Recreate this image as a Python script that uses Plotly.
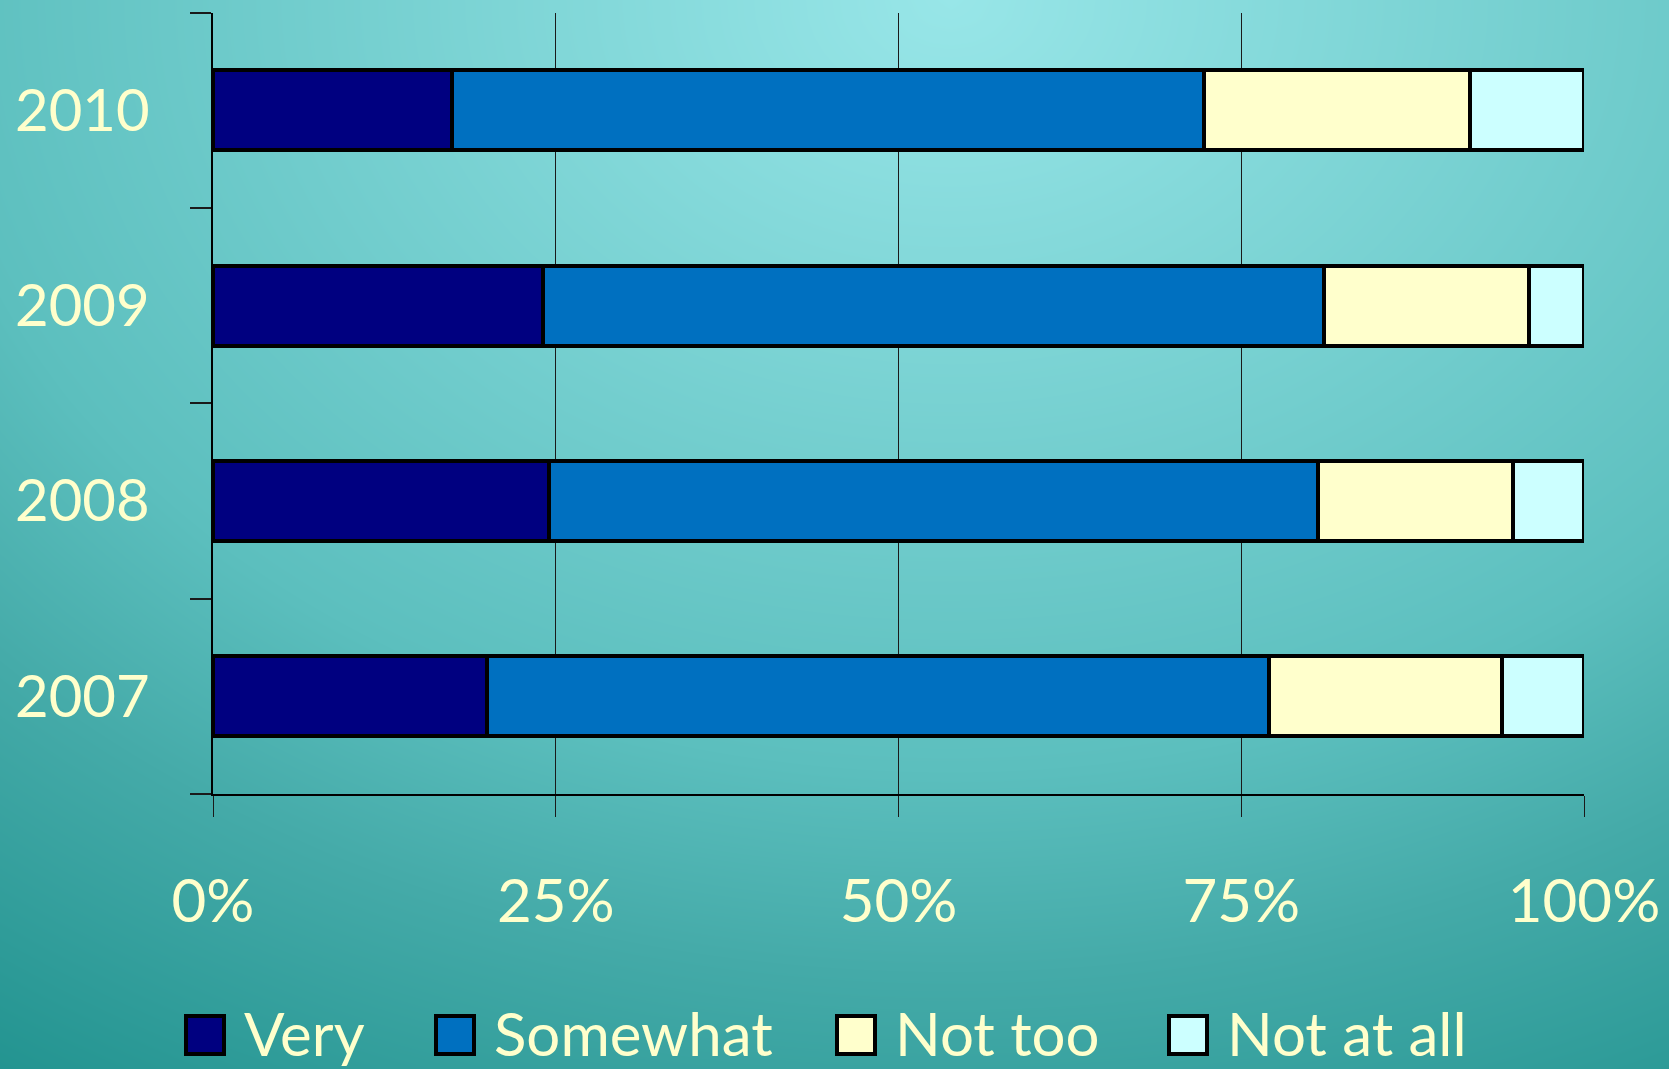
import numpy as np
import plotly.graph_objects as go

W, H = 1669, 1069
FONT = "Comic Sans MS, Lato, Noto Sans, sans-serif"
TEXT_COLOR = "#ffffcc"

years = ["2007", "2008", "2009", "2010"]
very = [20.0, 24.5, 24.1, 17.4]
somewhat = [57.0, 56.1, 56.9, 54.9]
not_too = [17.0, 14.2, 15.0, 19.4]
not_at_all = [6.0, 5.2, 4.0, 8.3]

series_names = ["Very", "Somewhat", "Not too", "Not at all"]
series_colors = ["#000080", "#0070c0", "#ffffcc", "#ccffff"]
tick_vals = [0, 25, 50, 75, 100]
tick_text = ["0%", "25%", "50%", "75%", "100%"]

fig = go.Figure()

# teal background, lighter towards the top centre
gx = np.linspace(0, W, 80)
gy = np.linspace(0, H, 60)
XX, YY = np.meshgrid(gx, gy)
rr = np.sqrt(((XX - 950) / 1200) ** 2 + (YY / 900) ** 2)
rr = np.clip(rr / 1.55, 0, 1)
fig.add_trace(go.Heatmap(
    x=gx, y=gy, z=rr, zsmooth="best", showscale=False, hoverinfo="skip",
    colorscale=[[0, "#98e6e8"], [0.55, "#5cbfbe"], [0.7, "#44aaa8"], [1, "#178c88"]],
    zmin=0, zmax=1, xaxis="x", yaxis="y",
))

for name, vals, col in zip(series_names, [very, somewhat, not_too, not_at_all], series_colors):
    fig.add_trace(go.Bar(
        y=years, x=vals, name=name, orientation="h",
        marker=dict(color=col, line=dict(color="black", width=4)),
        xaxis="x2", yaxis="y2", showlegend=False, hoverinfo="skip",
    ))

shapes = []
annotations = []
legend_x = [186, 436, 837, 1169]
for lx, name, col in zip(legend_x, series_names, series_colors):
    shapes.append(dict(
        type="rect", xref="paper", yref="paper",
        x0=lx / W, x1=(lx + 38) / W, y0=1 - 1054 / H, y1=1 - 1016 / H,
        fillcolor=col, line=dict(color="black", width=4),
    ))
    annotations.append(dict(
        x=(lx + 56) / W, y=1 - 1033 / H, xref="paper", yref="paper",
        text=name, showarrow=False, xanchor="left", yanchor="middle",
        font=dict(family=FONT, size=60, color=TEXT_COLOR),
    ))

fig.update_layout(
    width=W, height=H,
    margin=dict(l=0, r=0, t=0, b=0),
    paper_bgcolor="#4fb3b2",
    plot_bgcolor="rgba(0,0,0,0)",
    barmode="stack",
    bargap=0.59,
    showlegend=False,
    hovermode=False,
    shapes=shapes,
    annotations=annotations,
    xaxis=dict(domain=[0, 1], range=[0, W], visible=False, fixedrange=True),
    yaxis=dict(domain=[0, 1], range=[H, 0], visible=False, fixedrange=True),
    xaxis2=dict(
        domain=[213 / W, 1584 / W], anchor="y2", range=[0, 100],
        tickvals=tick_vals, ticktext=tick_text,
        showgrid=True, gridcolor="#1a1a1a", gridwidth=1,
        showline=True, linecolor="black", linewidth=1.5,
        ticks="outside", ticklen=21, tickcolor="#1a1a1a", tickwidth=1,
        ticklabelstandoff=33, zeroline=False, automargin=False,
        tickfont=dict(family=FONT, size=60, color=TEXT_COLOR),
    ),
    yaxis2=dict(
        domain=[1 - 794 / H, 1 - 12.5 / H], anchor="x2",
        type="category", categoryorder="array", categoryarray=years,
        tickson="boundaries", ticks="outside", ticklen=21,
        tickcolor="#1a1a1a", tickwidth=1.5,
        showline=True, linecolor="black", linewidth=1.5,
        showgrid=False, zeroline=False, automargin=False,
        ticklabelstandoff=50,
        tickfont=dict(family=FONT, size=58, color=TEXT_COLOR),
    ),
)

fig.write_html(
    "out.html",
    config={"displayModeBar": False},
    post_script="document.body.style.margin='0';document.body.style.overflow='hidden';",
)
